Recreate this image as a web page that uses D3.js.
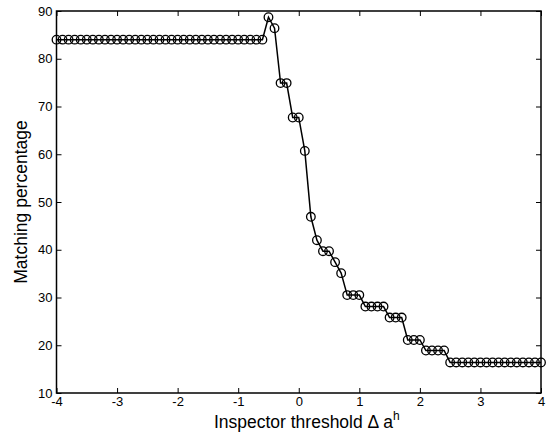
<!DOCTYPE html>
<html>
<head>
<meta charset="utf-8">
<script src="https://cdn.jsdelivr.net/npm/d3@7"></script>
<style>
body { margin: 0; background: #fff; }
svg text { font-family: "Liberation Sans", Arial, sans-serif; fill: #000; }
</style>
</head>
<body>
<div id="chart"></div>
<script>
// threshold values (step 0.1 from -4 to 4)
const thresholds = d3.range(81).map(i => Math.round((-4 + i * 0.1) * 10) / 10);

// matching percentage
const matching = [
  84, 84, 84, 84, 84, 84, 84, 84, 84, 84,
  84, 84, 84, 84, 84, 84, 84, 84, 84, 84,
  84, 84, 84, 84, 84, 84, 84, 84, 84, 84,
  84, 84, 84, 84, 84,
  88.7, 86.4, 74.9, 74.9, 67.7, 67.7, 60.7, 46.9, 42.0, 39.7,
  39.7, 37.4, 35.1, 30.5, 30.5, 30.5, 28.1, 28.1, 28.1, 28.1,
  25.8, 25.8, 25.8, 21.1, 21.1, 21.1, 18.9, 18.9, 18.9, 18.9,
  16.4, 16.4, 16.4, 16.4, 16.4, 16.4, 16.4, 16.4, 16.4, 16.4,
  16.4, 16.4, 16.4, 16.4, 16.4, 16.4
];

const xTicks = [-4, -3, -2, -1, 0, 1, 2, 3, 4];
const yTicks = [10, 20, 30, 40, 50, 60, 70, 80, 90];

const data = thresholds.map((t, i) => ({x: t, y: matching[i]}));

const W = 546, H = 435;
const margin = {top: 11, right: 5, bottom: 42, left: 56.5};
const width = W - margin.left - margin.right,
      height = H - margin.top - margin.bottom;

const svg = d3.select("#chart").append("svg")
    .attr("width", W)
    .attr("height", H);

const g = svg.append("g")
    .attr("transform", `translate(${margin.left},${margin.top})`);

const x = d3.scaleLinear().domain([-4, 4]).range([0, width]);
const y = d3.scaleLinear().domain([10, 90]).range([height, 0]);

const tickLen = 5;

// bottom axis, ticks pointing inward (plain hyphen like the original)
g.append("g")
    .attr("transform", `translate(0,${height})`)
    .call(d3.axisBottom(x).tickValues(xTicks).tickFormat(d => String(d))
        .tickSizeInner(-tickLen).tickSizeOuter(0).tickPadding(4))
    .call(a => a.select(".domain").remove())
    .selectAll("text").attr("font-size", 13);

// top axis ticks
g.append("g")
    .call(d3.axisTop(x).tickValues(xTicks).tickSizeInner(-tickLen).tickSizeOuter(0).tickFormat(""))
    .call(a => a.select(".domain").remove());

// left axis
g.append("g")
    .call(d3.axisLeft(y).tickValues(yTicks).tickFormat(d => String(d))
        .tickSizeInner(-tickLen).tickSizeOuter(0).tickPadding(4))
    .call(a => a.select(".domain").remove())
    .selectAll("text").attr("font-size", 13);

// right axis ticks
g.append("g")
    .attr("transform", `translate(${width},0)`)
    .call(d3.axisRight(y).tickValues(yTicks).tickSizeInner(-tickLen).tickSizeOuter(0).tickFormat(""))
    .call(a => a.select(".domain").remove());

g.selectAll(".tick line").attr("stroke", "#000").attr("stroke-width", 1);

// frame
g.append("rect")
    .attr("width", width)
    .attr("height", height)
    .attr("fill", "none")
    .attr("stroke", "#000")
    .attr("stroke-width", 1.5);

// line
const line = d3.line().x(d => x(d.x)).y(d => y(d.y));
g.append("path")
    .datum(data)
    .attr("d", line)
    .attr("fill", "none")
    .attr("stroke", "#000")
    .attr("stroke-width", 1.5);

// circle markers
g.selectAll(".pt")
    .data(data)
    .join("circle")
    .attr("class", "pt")
    .attr("cx", d => x(d.x))
    .attr("cy", d => y(d.y))
    .attr("r", 4.3)
    .attr("fill", "none")
    .attr("stroke", "#000")
    .attr("stroke-width", 1.3);

// axis labels
const xl = svg.append("text")
    .attr("x", margin.left + width / 2 + 8)
    .attr("y", 428)
    .attr("text-anchor", "middle")
    .attr("font-size", 17.5);
xl.append("tspan").text("Inspector threshold \u0394 a");
xl.append("tspan").text("h").attr("font-size", 12).attr("dy", -8);

svg.append("text")
    .attr("transform", `translate(27,${margin.top + height / 2}) rotate(-90)`)
    .attr("text-anchor", "middle")
    .attr("font-size", 17.5)
    .text("Matching percentage");
</script>
</body>
</html>
